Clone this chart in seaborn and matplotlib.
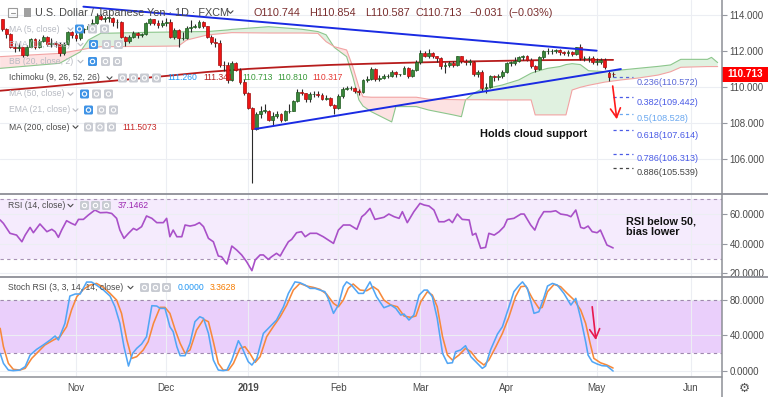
import numpy as np
import pandas as pd
import matplotlib
matplotlib.use("Agg")
import matplotlib.pyplot as plt
import seaborn as sns
from matplotlib.patches import Rectangle, FancyBboxPatch, Circle
from matplotlib.transforms import blended_transform_factory

sns.set_theme(style="white")
plt.rcParams["font.family"] = ["Liberation Sans", "DejaVu Sans"]

# ---------------- data ----------------
start_date = "2018-10-08"
end_date = "2019-06-28"
holidays = ["2018-12-25", "2019-01-01"]

closes = [113.20, 112.95, 112.25, 112.15, 112.20, 111.80, 112.25, 112.65, 112.20, 112.55,
          112.80, 112.40, 112.45, 112.40, 111.90, 112.40, 113.05, 112.90, 112.70, 113.20,
          113.20, 113.40, 113.55, 113.95, 113.80, 113.85, 113.85, 113.60, 113.60, 112.80,
          112.55, 112.80, 113.00, 112.90, 112.95, 113.55, 113.75, 113.55, 113.45, 113.55,
          113.60, 112.80, 113.15, 112.70, 112.70, 113.30, 113.35, 113.35, 113.60, 113.40,
          112.80, 112.50, 112.45, 111.25, 111.20, 110.40, 111.35, 110.95, 110.30, 109.65,
          108.85, 107.70, 108.50, 108.70, 108.70, 108.20, 108.40, 108.50, 108.15, 108.65,
          108.70, 109.25, 109.75, 109.65, 109.35, 109.60, 109.60, 109.55, 109.35, 109.40,
          109.00, 108.85, 109.50, 109.90, 109.95, 109.95, 109.80, 109.75, 110.40, 110.45,
          111.00, 110.45, 110.50, 110.60, 110.60, 110.85, 110.70, 110.70, 111.05, 110.60,
          110.95, 111.40, 111.90, 111.75, 111.90, 111.75, 111.60, 111.15, 111.20, 111.35,
          111.20, 111.70, 111.45, 111.40, 111.40, 110.70, 110.85, 109.95, 110.00, 110.60,
          110.55, 110.60, 110.85, 111.35, 111.35, 111.45, 111.65, 111.70, 111.50, 111.15,
          111.00, 111.65, 112.00, 112.00, 112.00, 112.05, 111.95, 111.90, 111.95, 111.85,
          112.20, 111.60, 111.60, 111.60, 111.40, 111.40, 111.50, 111.10, 110.58, 110.713]

highs = [113.80, 113.25, 113.00, 112.45, 112.45, 112.25, 112.35, 112.70, 112.70, 112.65,
         112.90, 112.85, 112.70, 112.55, 112.50, 112.50, 113.10, 113.10, 113.15, 113.25,
         113.30, 113.50, 113.80, 114.10, 114.05, 113.95, 114.05, 113.90, 113.75, 113.65,
         112.85, 112.90, 113.10, 113.05, 113.00, 113.60, 113.85, 113.80, 113.70, 113.70,
         113.85, 113.75, 113.30, 113.20, 113.05, 113.40, 113.70, 113.50, 113.70, 113.65,
         113.40, 112.90, 112.70, 112.60, 111.45, 111.40, 111.45, 111.40, 111.05, 110.45,
         109.75, 108.90, 108.60, 108.95, 109.05, 108.75, 108.60, 108.70, 108.55, 108.75,
         109.05, 109.30, 109.90, 109.90, 109.70, 109.75, 109.80, 109.80, 109.70, 109.55,
         109.45, 109.05, 109.60, 110.00, 110.05, 110.05, 110.00, 109.90, 110.45, 110.60,
         111.10, 111.05, 110.65, 110.70, 110.70, 110.95, 110.90, 110.75, 111.15, 111.10,
         111.00, 111.50, 112.05, 112.00, 112.10, 111.95, 111.75, 111.65, 111.40, 111.45,
         111.45, 111.75, 111.75, 111.55, 111.55, 111.45, 110.95, 110.95, 110.25, 110.65,
         110.65, 110.75, 110.95, 111.40, 111.45, 111.65, 111.75, 111.80, 111.80, 111.60,
         111.20, 111.70, 112.05, 112.15, 112.10, 112.10, 112.10, 112.00, 112.05, 112.00,
         112.25, 112.40, 111.75, 111.70, 111.70, 111.60, 111.60, 111.60, 110.90, 110.854]

lows = [113.10, 112.75, 112.15, 111.95, 112.00, 111.65, 111.75, 112.20, 112.10, 112.15,
        112.50, 112.30, 112.20, 112.20, 111.75, 111.80, 112.35, 112.75, 112.55, 112.60,
        113.00, 113.10, 113.30, 113.50, 113.70, 113.60, 113.60, 113.40, 113.30, 112.70,
        112.30, 112.45, 112.75, 112.75, 112.80, 112.90, 113.45, 113.45, 113.30, 113.35,
        113.40, 112.75, 112.65, 112.25, 112.60, 112.65, 113.05, 113.25, 113.25, 113.25,
        112.75, 112.40, 112.25, 111.10, 110.90, 110.25, 110.35, 110.90, 110.20, 109.55,
        108.80, 104.70, 107.60, 108.30, 108.55, 108.10, 107.90, 108.30, 108.05, 108.10,
        108.55, 108.65, 109.20, 109.55, 109.20, 109.20, 109.45, 109.45, 109.30, 109.30,
        108.95, 108.50, 108.80, 109.40, 109.85, 109.85, 109.70, 109.55, 109.70, 110.30,
        110.40, 110.35, 110.35, 110.45, 110.50, 110.55, 110.55, 110.60, 110.70, 110.50,
        110.55, 110.90, 111.30, 111.65, 111.60, 111.60, 111.40, 111.00, 110.80, 111.10,
        111.10, 111.15, 111.35, 111.25, 111.25, 110.60, 110.55, 109.80, 109.70, 109.95,
        110.35, 110.40, 110.50, 110.80, 111.15, 111.25, 111.40, 111.50, 111.45, 111.05,
        110.85, 110.95, 111.55, 111.85, 111.85, 111.90, 111.80, 111.80, 111.75, 111.70,
        111.80, 111.50, 111.45, 111.40, 111.30, 111.25, 111.30, 111.00, 110.36, 110.587]

first_open = 113.75
gap_opens = {148: 110.80, 149: 110.744}

# Ichimoku cloud (leading spans), read at shared bar positions
cloud_x = [-0.5, 14, 19, 21, 24, 36, 43, 45, 50, 55, 56, 65, 73, 77, 79, 81, 84, 85.5, 87, 88,
           90, 95, 96, 101, 104, 110, 112, 113, 115, 116.5, 122, 126, 129, 130, 133, 136, 137.5,
           139, 141, 143, 147, 151, 155, 160, 163, 165.5, 172, 173, 174.5]
span_a = [111.04, 111.32, 111.95, 112.61, 112.98, 113.04, 113.06, 113.07, 113.08, 113.17, 113.20,
          113.35, 113.21, 113.08, 112.90, 112.20, 111.69, 110.58, 109.29, 108.95, 108.64, 108.07,
          108.92, 108.92, 108.73, 108.46, 108.36, 109.29, 109.66, 109.84, 110.12, 110.40, 110.77,
          110.85, 111.04, 111.14, 111.25, 111.30, 111.25, 110.91, 110.86, 110.95, 111.04, 111.15,
          111.23, 111.54, 111.54, 111.65, 111.36]
span_b = [111.69, 111.87, 112.06, 112.15, 112.24, 112.26, 112.28, 112.61, 112.89, 113.00, 113.02,
          113.00, 113.00, 112.98, 112.52, 112.24, 112.06, 111.14, 110.00, 109.47, 109.44, 109.44,
          109.44, 109.44, 109.33, 109.31, 109.30, 109.30, 109.30, 109.30, 109.29, 109.29, 109.29,
          108.46, 108.46, 108.46, 108.46, 109.84, 109.99, 110.10, 110.28, 110.40, 110.50, 110.67,
          110.85, 111.10, 111.14, 111.14, 111.14]

ma200_x = [-0.5, 10, 20, 30, 40, 50, 60, 70, 80, 90, 100, 110, 120, 130, 140, 149]
ma200_y = [109.80, 110.00, 110.21, 110.41, 110.62, 110.84, 111.01, 111.13, 111.23, 111.30,
           111.36, 111.41, 111.45, 111.49, 111.51, 111.51]

upper_tl_x = [19.8, 145.0]
upper_tl_y = [114.46, 112.02]
lower_tl_x = [61.7, 150.9]
lower_tl_y = [107.68, 111.00]

fib_ratio = ["0.236", "0.382", "0.5", "0.618", "0.786", "0.886"]
fib_level = [110.572, 109.442, 108.528, 107.614, 106.313, 105.539]
fib_color = ["#5a68d8", "#4a5be6", "#6aa8f0", "#4a5be6", "#4a5be6", "#454545"]
fib_x = [148.9, 153.8]
fib_label_x = 154.8

main_arrow_x = [148.9, 149.9]
main_arrow_y = [110.06, 108.22]

rsi_x = [-0.5, 0.3, 1.9, 3.5, 4.8, 5.6, 6.8, 7.6, 9.2, 10.9,
         12.1, 12.9, 13.7, 14.5, 15.7, 16.9, 17.8, 18.6, 19.8, 21.0,
         22.6, 23.9, 25.5, 26.7, 27.9, 28.7, 29.7, 30.8, 32.0, 32.8,
         34.0, 35.2, 36.5, 37.7, 39.3, 40.1, 40.9, 41.7, 42.6, 43.8,
         44.6, 45.8, 47.0, 48.1, 49.1, 50.3, 51.5, 52.7, 53.5, 54.8,
         56.0, 57.2, 58.4, 59.6, 60.9, 61.7, 62.9, 63.7, 64.9, 65.7,
         66.9, 67.8, 68.6, 69.8, 70.6, 71.8, 73.0, 73.9, 75.1, 76.7,
         78.3, 79.5, 80.8, 82.0, 83.2, 84.8, 86.5, 87.7, 88.5, 89.7,
         90.9, 93.1, 94.3, 95.6, 96.8, 97.6, 98.8, 100.4, 101.9, 102.9,
         104.1, 105.3, 106.5, 107.8, 109.0, 109.8, 111.0, 112.2, 113.9, 114.7,
         115.5, 116.7, 117.9, 118.7, 120.0, 121.2, 122.4, 123.2, 124.8, 126.5,
         127.3, 128.9, 129.9, 130.9, 132.1, 133.8, 135.0, 136.2, 137.8, 138.7,
         139.9, 141.1, 141.9, 142.9, 143.9, 145.1, 145.9, 147.5, 149.0]
rsi_y = [56.0, 53.7, 47.0, 45.8, 41.3, 45.8, 51.0, 47.4, 53.3, 48.1,
         49.7, 48.1, 44.3, 49.2, 55.5, 53.7, 52.6, 56.4, 56.4, 59.3,
         62.7, 60.9, 61.1, 60.4, 57.1, 49.2, 43.6, 47.0, 50.3, 49.2,
         51.5, 58.7, 57.1, 54.2, 54.2, 57.1, 44.7, 49.2, 44.7, 44.7,
         52.6, 51.9, 52.6, 54.2, 51.5, 43.6, 41.3, 31.7, 31.2, 26.3,
         38.4, 35.7, 32.4, 27.9, 21.8, 29.0, 32.4, 32.4, 29.4, 31.2,
         33.5, 31.7, 35.7, 41.3, 42.9, 47.4, 48.1, 44.7, 47.0, 47.0,
         44.7, 42.5, 40.2, 49.2, 52.6, 52.6, 49.7, 58.2, 60.0, 63.8,
         56.4, 57.8, 60.0, 58.2, 57.1, 61.6, 54.2, 61.6, 67.2, 66.1,
         65.4, 62.7, 54.8, 54.8, 56.4, 54.2, 60.0, 56.4, 56.0, 45.8,
         47.0, 36.9, 37.5, 47.0, 45.8, 48.1, 51.5, 56.4, 57.1, 60.0,
         60.0, 52.6, 49.2, 56.4, 61.6, 61.6, 62.2, 60.0, 59.3, 58.2,
         62.7, 51.0, 50.3, 51.9, 48.1, 47.4, 49.2, 39.1, 37.15]

k_x = [-0.5, 0.3, 1.5, 2.7, 4.3, 5.6, 6.8, 8.4, 10.0, 11.7,
       12.9, 13.7, 15.3, 16.5, 17.8, 19.0, 20.6, 21.8, 23.0, 24.7,
       26.3, 27.5, 28.7, 29.7, 30.8, 31.8, 32.8, 34.0, 35.2, 36.5,
       37.7, 38.5, 39.7, 40.9, 41.7, 42.6, 43.4, 44.6, 45.8, 47.0,
       48.2, 49.1, 50.3, 51.5, 52.7, 53.9, 54.8, 56.0, 57.6, 58.4,
       60.0, 60.9, 62.1, 63.7, 65.3, 66.9, 68.6, 69.8, 71.4, 72.6,
       73.9, 75.1, 76.3, 77.5, 78.7, 79.5, 80.8, 82.0, 83.2, 84.0,
       85.2, 86.9, 88.1, 89.7, 91.3, 93.1, 94.8, 96.0, 97.2, 98.0,
       99.2, 100.4, 101.7, 102.9, 103.7, 104.9, 106.1, 107.4, 108.6, 109.8,
       110.6, 111.8, 113.0, 114.3, 115.9, 117.1, 117.9, 119.1, 120.8, 122.0,
       123.6, 124.8, 126.1, 126.9, 128.1, 129.7, 130.9, 132.2, 133.0, 134.2,
       135.4, 137.0, 138.7, 139.9, 141.1, 142.3, 142.9, 143.9, 145.1, 146.3,
       147.5, 149.0]
k_y = [19.8, 8.6, 1.1, 0.4, 1.1, 4.9, 17.9, 24.3, 29.2, 34.8,
       39.3, 34.8, 53.5, 84.1, 86.4, 86.4, 99.8, 99.8, 96.4, 90.8,
       84.1, 72.1, 53.5, 27.3, 5.6, 19.8, 25.4, 30.3, 38.5, 73.3,
       72.9, 70.3, 70.3, 49.7, 44.1, 27.3, 17.2, 17.2, 31.0, 55.3,
       60.9, 59.1, 42.2, 12.3, 1.1, 0.4, 1.1, 12.3, 34.0, 27.3,
       10.5, 6.7, 14.2, 42.2, 49.7, 57.2, 72.1, 87.1, 100.0, 99.1,
       96.4, 92.7, 92.7, 90.8, 89.0, 81.5, 64.7, 74.0, 94.6, 100.0,
       96.4, 87.1, 87.1, 100.0, 83.4, 71.0, 74.0, 70.3, 62.8, 63.9,
       57.2, 62.8, 85.2, 90.8, 90.8, 83.4, 59.1, 19.8, 8.6, 9.3,
       21.7, 23.6, 28.4, 16.1, 8.6, 3.0, 5.6, 23.6, 41.5, 49.7,
       72.1, 89.0, 96.4, 100.0, 92.7, 64.7, 66.5, 83.4, 95.3, 98.3,
       96.4, 87.1, 74.0, 81.5, 59.1, 32.9, 17.9, 10.5, 7.9, 6.0,
       5.6, 0.0]

d_x = [-0.5, 0.3, 1.5, 2.7, 4.3, 5.6, 7.2, 8.8, 10.4, 12.5,
       14.1, 15.7, 16.9, 18.2, 19.8, 21.4, 23.0, 24.7, 26.3, 27.9,
       29.1, 30.4, 31.6, 32.8, 34.4, 35.6, 36.9, 38.5, 39.7, 40.9,
       42.2, 43.4, 44.6, 45.8, 47.4, 49.1, 50.3, 51.5, 52.7, 53.9,
       55.2, 56.4, 58.0, 59.2, 60.4, 61.7, 62.9, 64.5, 66.1, 67.8,
       69.4, 71.0, 72.6, 74.3, 75.9, 77.5, 79.1, 80.8, 82.0, 83.2,
       84.4, 85.6, 87.3, 88.9, 90.5, 91.7, 93.1, 94.8, 96.4, 98.0,
       99.6, 100.9, 102.1, 103.7, 104.9, 106.1, 107.4, 108.6, 109.8, 111.4,
       113.0, 114.3, 115.9, 117.5, 118.7, 120.4, 122.0, 123.6, 125.2, 126.5,
       127.7, 129.3, 130.9, 131.7, 133.0, 134.6, 136.2, 137.8, 139.5, 141.1,
       142.3, 143.4, 144.3, 145.9, 147.5, 149.0]
d_y = [47.9, 27.3, 8.6, 1.9, 1.1, 3.0, 14.2, 21.7, 29.2, 34.8,
       38.5, 49.7, 68.4, 83.4, 91.6, 96.4, 98.3, 93.8, 87.1, 79.6,
       64.7, 34.8, 14.2, 16.1, 23.6, 32.9, 53.5, 71.4, 71.4, 64.7,
       46.0, 31.0, 19.8, 23.6, 46.0, 58.0, 55.3, 32.9, 8.6, 1.1,
       1.1, 8.6, 25.4, 27.3, 19.8, 9.7, 16.1, 38.5, 49.7, 60.9,
       74.0, 90.8, 98.3, 95.3, 93.8, 91.6, 86.4, 75.9, 72.1, 79.6,
       92.7, 97.6, 90.8, 90.1, 94.6, 90.8, 79.6, 74.0, 72.1, 61.7,
       60.2, 61.7, 77.8, 89.0, 85.2, 72.1, 38.5, 17.9, 12.3, 17.9,
       25.4, 21.7, 12.3, 6.7, 12.3, 27.3, 42.2, 60.9, 83.4, 94.6,
       95.3, 81.5, 70.3, 71.4, 89.0, 97.2, 94.6, 87.1, 79.6, 68.4,
       53.5, 31.0, 14.2, 9.3, 6.7, 3.36]

stoch_arrow_x = [143.9, 144.8]
stoch_arrow_y = [72.1, 34.8]

price_ticks = [106, 108, 110, 112, 114]
rsi_ticks = [20, 40, 60]
stoch_ticks = [0, 40, 80]
last_price = 110.713

# ---------------- derived ----------------
days = pd.bdate_range(start_date, end_date)
days = days[~days.isin(pd.to_datetime(holidays))]
month_pos, month_lab = [], []
for i in range(1, len(days)):
    if days[i].month != days[i - 1].month:
        month_pos.append(i)
        month_lab.append("2019" if days[i].month == 1 else days[i].strftime("%b"))

n = len(closes)
idx = np.arange(n)
opens = [first_open] + closes[:-1]
for k, v in gap_opens.items():
    opens[k] = v
o = np.array(opens); c = np.array(closes); h = np.array(highs); l = np.array(lows)

# ---------------- figure ----------------
W, H = 768, 397
fig = plt.figure(figsize=(W / 100, H / 100), dpi=100)
fig.patch.set_facecolor("white")
axw = 722 / W
ax = fig.add_axes([0, 1 - 193 / H, axw, 193 / H])
ax_r = fig.add_axes([0, 1 - 276 / H, axw, 83 / H], sharex=ax)
ax_s = fig.add_axes([0, 1 - 377 / H, axw, 101 / H], sharex=ax)
XL = (-0.54, 175.56)

GRID = "#eceef3"
LBL = "#4a4a4a"


def style(a, yticks, fmt, ylim):
    a.set_facecolor("white")
    a.set_xlim(XL)
    a.set_ylim(ylim)
    for s in a.spines.values():
        s.set_visible(False)
    a.set_xticks(month_pos)
    a.yaxis.tick_right()
    a.set_yticks(yticks)
    a.set_yticklabels([fmt.format(v) for v in yticks])
    a.tick_params(axis="y", length=3.5, width=0.8, color="#9598a1",
                  labelsize=7, labelcolor=LBL, pad=2)
    a.grid(True, color=GRID, lw=0.8)
    a.set_axisbelow(True)
    a.set_xlabel("")
    a.set_ylabel("")


style(ax, price_ticks, "{:.3f}", (104.13, 114.83))
style(ax_r, rsi_ticks, "{:.4f}", (18.2, 74.2))
style(ax_s, stoch_ticks, "{:.4f}", (-6.7, 106.6))
ax.tick_params(axis="x", length=0, labelbottom=False)
ax_r.tick_params(axis="x", length=0, labelbottom=False)
ax_s.tick_params(axis="x", length=0, labelsize=7, labelcolor=LBL, pad=4)
ax_s.set_xticklabels(month_lab)
for t in ax_s.get_xticklabels():
    if t.get_text() == "2019":
        t.set_fontweight("bold")

# --- main panel ---
ca = np.array(span_a); cb = np.array(span_b); cx = np.array(cloud_x)
ax.fill_between(cx, ca, cb, where=ca >= cb, interpolate=True, color="#e0f1e0", lw=0, zorder=1)
ax.fill_between(cx, ca, cb, where=ca < cb, interpolate=True, color="#fde2e2", lw=0, zorder=1)
sns.lineplot(x=cloud_x, y=span_a, ax=ax, color="#8cc68c", lw=0.8, sort=False,
             estimator=None, legend=False, zorder=1.5)
sns.lineplot(x=cloud_x, y=span_b, ax=ax, color="#f2a3a3", lw=0.8, sort=False,
             estimator=None, legend=False, zorder=1.5)
sns.lineplot(x=ma200_x, y=ma200_y, ax=ax, color="#b71c1c", lw=1.3, sort=False,
             estimator=None, legend=False, zorder=2)

up = c >= o
body_lo = np.minimum(o, c)
body_h = np.maximum(np.abs(c - o), 0.025)
ax.vlines(idx, l, h, color="#2b2b2b", lw=0.8, zorder=3)
ax.bar(idx[up], body_h[up], bottom=body_lo[up], width=0.72, color="#3a873a",
       edgecolor="#1f5a1f", lw=0.5, zorder=4)
ax.bar(idx[~up], body_h[~up], bottom=body_lo[~up], width=0.72, color="#ee1515",
       edgecolor="#a51010", lw=0.5, zorder=4)

sns.lineplot(x=upper_tl_x, y=upper_tl_y, ax=ax, color="#1a2be3", lw=1.4,
             estimator=None, legend=False, zorder=5)
sns.lineplot(x=lower_tl_x, y=lower_tl_y, ax=ax, color="#1a2be3", lw=1.4,
             estimator=None, legend=False, zorder=5)

for r, lv, col in zip(fib_ratio, fib_level, fib_color):
    ax.hlines(lv, fib_x[0], fib_x[1], colors=col, linestyles=(0, (2.5, 2.5)), lw=0.9, zorder=5)
    ax.annotate(f"{r}({lv:.3f})", xy=(fib_label_x, lv), xytext=(0, -3.8),
                textcoords="offset points", va="center", ha="left", fontsize=6.6, color=col)

ax.annotate("", xy=(main_arrow_x[1], main_arrow_y[1]), xytext=(main_arrow_x[0], main_arrow_y[0]),
            arrowprops=dict(arrowstyle="->,head_length=0.55,head_width=0.3", color="#ff1a1a",
                            lw=1.2, shrinkA=0, shrinkB=0), zorder=6)

# last price box
bt = blended_transform_factory(ax.transAxes, ax.transData)
ax.add_patch(Rectangle((1.0, last_price - 0.42), W / 722 - 1.0, 0.84, transform=bt,
                       clip_on=False, fc="#ff0000", ec="none", zorder=10))
ax.text(1.0 + 5 / 722, last_price, f"{last_price:.3f}", transform=bt, color="white",
        fontsize=7.2, fontweight="bold", va="center", ha="left", zorder=11, clip_on=False)

# --- RSI panel ---
ax_r.axhspan(30, 70, color="#f5ebfd", lw=0, zorder=0.3)
for lv in (70, 30):
    ax_r.axhline(lv, color="#a892b5", ls=(0, (3, 3)), lw=0.8, zorder=1)
sns.lineplot(x=rsi_x, y=rsi_y, ax=ax_r, color="#a950c8", lw=1.2, sort=False,
             estimator=None, legend=False, zorder=3)

# --- Stoch RSI panel ---
ax_s.axhspan(20, 80, color="#eacffb", lw=0, zorder=0.3)
for lv in (80, 20):
    ax_s.axhline(lv, color="#9e88ad", ls=(0, (3, 3)), lw=0.8, zorder=1)
sns.lineplot(x=d_x, y=d_y, ax=ax_s, color="#f7893b", lw=1.15, sort=False,
             estimator=None, legend=False, zorder=3)
sns.lineplot(x=k_x, y=k_y, ax=ax_s, color="#52a6f5", lw=1.15, sort=False,
             estimator=None, legend=False, zorder=4)
ax_s.annotate("", xy=(stoch_arrow_x[1], stoch_arrow_y[1]), xytext=(stoch_arrow_x[0], stoch_arrow_y[0]),
              arrowprops=dict(arrowstyle="->,head_length=0.55,head_width=0.3", color="#e8194d",
                              lw=1.2, shrinkA=0, shrinkB=0), zorder=6)

# ---------------- overlay (pixel coordinates) ----------------
ov = fig.add_axes([0, 0, 1, 1], zorder=20)
ov.set_xlim(0, W); ov.set_ylim(H, 0); ov.axis("off"); ov.patch.set_alpha(0)

SEP = "#8d8f96"
ov.add_patch(Rectangle((723, 277), 45, 9, fc="white", ec="none"))
ov.plot([0, W], [193.5, 193.5], color=SEP, lw=1.3)
ov.plot([0, W], [276.5, 276.5], color=SEP, lw=1.3)
ov.plot([0, 722], [377, 377], color=SEP, lw=1.1)
ov.plot([722, 722], [0, H], color=SEP, lw=1.1)


def chevron(x, y, col):
    ov.plot([x, x + 2.5, x + 5], [y - 1.2, y + 1.3, y - 1.2], color=col, lw=0.8)


def icons(xs, y, cols):
    for x, col in zip(xs, cols):
        ov.add_patch(FancyBboxPatch((x, y - 4.5), 9, 9, boxstyle="round,pad=0,rounding_size=1.5",
                                    fc=col, ec="none"))
        ov.add_patch(Circle((x + 4.5, y), 2.2, fill=False, ec="white", lw=0.8))


def txt(x, y, s, col, size=6.2, **kw):
    ov.text(x, y, s, color=col, fontsize=size, va="center", ha="left", **kw)


BLUE_I, GRAY_I = "#3e93e6", "#c8cbd2"
FADE, DARK = "#b7bac2", "#4b4b4b"

# header
ov.add_patch(Rectangle((8, 8), 9, 9, fill=False, ec="#9a9a9a", lw=0.8))
ov.plot([10.5, 14.5], [12.5, 12.5], color="#9a9a9a", lw=0.8)
ov.add_patch(Rectangle((24, 8), 7, 9, fc="#a0a0a0", ec="none"))
txt(35, 12.5, "U.S. Dollar / Japanese Yen · 1D · FXCM", "#4a4a4a", size=7.8)
chevron(228, 12, "#4a4a4a")
ohlc_text = ["O110.744", "H110.854", "L110.587", "C110.713", "\u22120.031", "(\u22120.03%)"]
ohlc_px = [254, 309, 365, 416, 470, 508]
for s, x in zip(ohlc_text, ohlc_px):
    txt(x, 12.5, s, "#7a2e2e", size=7.8)

# indicator legend rows
txt(9, 29, "MA (5, close)", FADE); chevron(68, 29, FADE)
icons([75, 88, 100], 29, [BLUE_I, GRAY_I, GRAY_I])
txt(9, 44.5, "EMA (10, close)", FADE); chevron(78, 44.5, FADE)
icons([89, 102, 114], 44.5, [BLUE_I, GRAY_I, GRAY_I])
txt(9, 61.5, "BB (20, close, 2)", FADE); chevron(78, 61.5, FADE)
icons([88, 101, 113], 61.5, [BLUE_I, GRAY_I, GRAY_I])
txt(9, 78, "Ichimoku (9, 26, 52, 26)", DARK); chevron(107, 78, DARK)
icons([118, 129, 140, 152], 78, [GRAY_I] * 4)
ichi_vals = ["111.260", "111.341", "110.713", "110.810", "110.317"]
ichi_cols = ["#2196f3", "#b22222", "#3a9a3a", "#3a9a3a", "#e53935"]
ichi_px = [167.5, 203, 242, 277, 312]
for s, col, x in zip(ichi_vals, ichi_cols, ichi_px):
    txt(x, 78, s, col)
txt(9, 94, "MA (50, close)", FADE); chevron(68, 94, FADE)
icons([80, 92, 104], 94, [BLUE_I, GRAY_I, GRAY_I])
txt(9, 110, "EMA (21, close)", FADE); chevron(73, 110, FADE)
icons([84, 97, 109], 110, [BLUE_I, GRAY_I, GRAY_I])
txt(9, 127, "MA (200, close)", DARK); chevron(73, 127, DARK)
icons([84, 95.5, 107], 127, [GRAY_I] * 3)
txt(122.5, 127, "111.5073", "#c62828")

txt(8, 205.5, "RSI (14, close)", DARK); chevron(68, 205.5, DARK)
icons([80, 91, 102], 205.5, [GRAY_I] * 3)
txt(117.5, 205.5, "37.1462", "#9c27b0")

txt(8, 287.5, "Stoch RSI (3, 3, 14, 14, close)", DARK); chevron(128, 287.5, DARK)
icons([140, 151, 162], 287.5, [GRAY_I] * 3)
txt(177.5, 287.5, "0.0000", "#2196f3")
txt(209.5, 287.5, "3.3628", "#f57c00")

# annotations
ov.text(534, 134, "Holds cloud support", color="#111111", fontsize=7.9, fontweight="bold",
        ha="center", va="center")
txt(625.5, 221, "RSI below 50,", "#111111", size=7.8, fontweight="bold")
txt(625.5, 232, "bias lower", "#111111", size=7.8, fontweight="bold")

ov.text(744, 388, "\u2699", color="#555555", fontsize=9, ha="center", va="center",
        family="DejaVu Sans")

fig.savefig("out.png", dpi=100, facecolor="white")
